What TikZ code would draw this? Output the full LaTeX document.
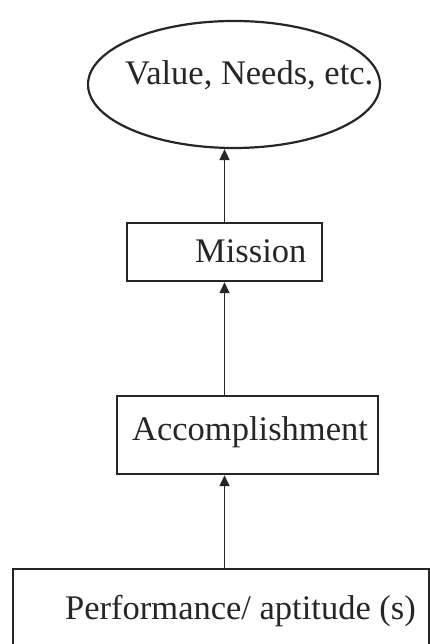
\documentclass[tikz,border=0pt]{standalone}
\usepackage{fontspec}
\setmainfont{Liberation Serif}
\usetikzlibrary{shapes.geometric,arrows.meta,calc}
\begin{document}
\begin{tikzpicture}[x=1pt,y=1pt,
  boxstyle/.style={draw=black!85,line width=2.5pt,rectangle,inner sep=0pt},
  ellstyle/.style={draw=black!85,line width=2.2pt,ellipse,inner sep=0pt},
  lbl/.style={anchor=base west,inner sep=0pt,text=black!85,font=\fontsize{34.5}{40}\selectfont},
  arr/.style={draw=black!85,line width=1.6pt,-{Triangle[width=10pt,length=11pt]}}]
\useasboundingbox (0,0) rectangle (430,644);
\node[ellstyle,minimum width=292pt,minimum height=127pt] (ell) at (234,559.5) {};
\node[boxstyle,minimum width=195pt,minimum height=58pt] (mis) at (224.5,392) {};
\node[boxstyle,minimum width=261pt,minimum height=78pt] (acc) at (247.5,209) {};
\node[boxstyle,minimum width=416pt,minimum height=120pt] (bot) at (221,15) {};
\node[lbl] (tell) at (125,559) {Value, Needs, etc.};
\node[lbl] (tmis) at (195,381) {Mission};
\node[lbl] (tacc) at (132,203) {Accomplishment};
\node[lbl] (tbot) at (65,24) {Performance/ aptitude (s)};
\draw[arr] (bot.north -| mis.south) -- (acc.south -| mis.south);
\draw[arr] (acc.north -| mis.south) -- (mis.south);
\draw[arr] (mis.north) -- (ell.south -| mis.north);
\end{tikzpicture}
\end{document}
